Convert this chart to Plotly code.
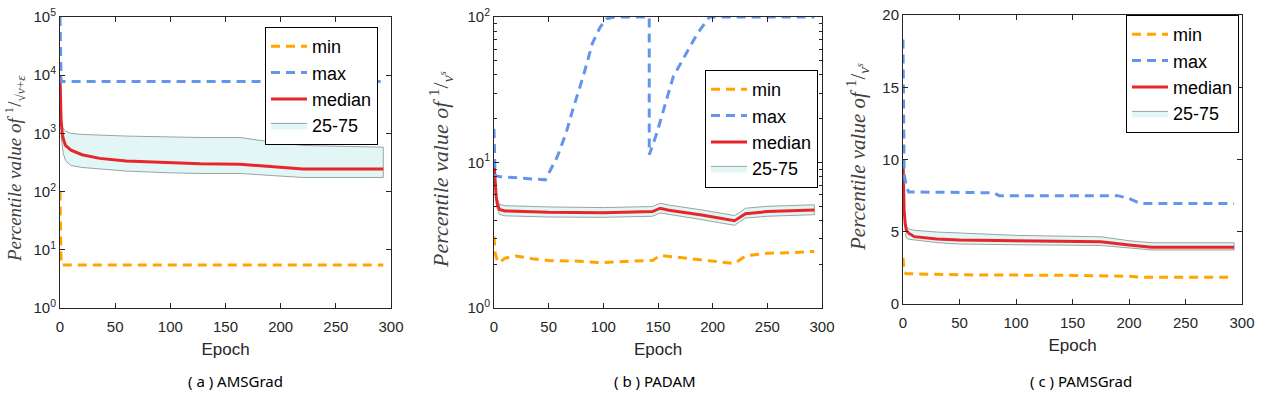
import plotly.graph_objects as go

# ---- data ----
# (a) AMSGrad, log axis
a_med_epoch = [0, 1, 2, 3, 5, 10, 20, 36, 60, 100, 127, 163, 190, 220, 250, 293]
a_median = [10000, 1700, 1000, 800, 620, 516, 430, 372, 335, 310, 300, 295, 270, 245, 245, 245]
a_band_epoch = [1, 2, 3, 5, 10, 20, 36, 60, 100, 127, 163, 190, 220, 250, 293]
a_p75 = [1400, 1250, 1200, 1100, 1000, 960, 930, 900, 870, 850, 850, 720, 620, 600, 580]
a_p25 = [900, 650, 450, 340, 280, 260, 245, 225, 210, 205, 205, 190, 175, 175, 175]
a_max_epoch = [0, 1, 293]
a_max = [100000, 7800, 7800]
a_min_epoch = [0, 1, 293]
a_min = [100, 5.5, 5.5]

# (b) PADAM, log axis
b_med_epoch = [0, 1, 2, 3, 5, 10, 30, 50, 100, 145, 152, 160, 190, 220, 225, 230, 250, 293]
b_median = [10, 7, 5.8, 5.2, 4.75, 4.65, 4.6, 4.55, 4.52, 4.6, 4.85, 4.7, 4.35, 3.98, 4.2, 4.45, 4.6, 4.72]
b_band_epoch = [2, 3, 5, 10, 30, 50, 100, 145, 152, 160, 190, 220, 225, 230, 250, 293]
b_p75 = [6.3, 5.6, 5.15, 5.05, 5.0, 4.95, 4.9, 4.98, 5.25, 5.1, 4.72, 4.32, 4.55, 4.85, 5.0, 5.12]
b_p25 = [5.3, 4.8, 4.4, 4.3, 4.27, 4.22, 4.2, 4.27, 4.5, 4.37, 4.05, 3.7, 3.9, 4.15, 4.27, 4.38]
b_max_epoch = [0, 1, 5, 25, 47, 58, 66, 72, 82, 90, 97, 103, 110, 142, 142, 149, 164, 186, 197, 293]
b_max = [17, 8.1, 8.0, 7.8, 7.6, 11, 16, 23, 40, 66, 85, 97, 100, 100, 11.3, 16, 39, 77, 100, 100]
b_min_epoch = [0, 1, 3, 5, 10, 20, 35, 50, 75, 100, 125, 145, 152, 175, 200, 220, 230, 250, 270, 293]
b_min = [3.1, 2.4, 2.1, 2.05, 2.2, 2.28, 2.18, 2.12, 2.1, 2.05, 2.1, 2.12, 2.3, 2.2, 2.1, 2.02, 2.28, 2.38, 2.4, 2.45]

# (c) PAMSGrad, linear axis
c_med_epoch = [0, 1, 2, 3, 5, 10, 30, 50, 100, 175, 200, 220, 293]
c_median = [10, 6.5, 5.5, 5.1, 4.9, 4.66, 4.5, 4.43, 4.38, 4.3, 4.08, 3.92, 3.92]
c_band_epoch = [2, 3, 5, 10, 30, 50, 100, 175, 200, 220, 293]
c_p75 = [5.8, 5.35, 5.2, 5.1, 4.98, 4.9, 4.75, 4.65, 4.38, 4.24, 4.24]
c_p25 = [4.9, 4.57, 4.48, 4.4, 4.25, 4.15, 4.1, 4.05, 3.88, 3.74, 3.74]
c_max_epoch = [0, 1, 3, 5, 80, 85, 190, 200, 210, 293]
c_max = [18.3, 9, 8.1, 7.75, 7.7, 7.5, 7.5, 7.3, 6.95, 6.95]
c_min_epoch = [0, 1, 3, 50, 150, 200, 210, 293]
c_min = [3.2, 2.2, 2.1, 2.02, 1.98, 1.92, 1.85, 1.85]

W, H = 1272, 397


def px(x):
    return x / W


def py(y):
    return 1 - y / H


panels = [
    dict(ax='', leg='legend', med=(a_med_epoch, a_median), band=(a_band_epoch, a_p75, a_p25),
         mx=(a_max_epoch, a_max), mn=(a_min_epoch, a_min)),
    dict(ax='2', leg='legend2', med=(b_med_epoch, b_median), band=(b_band_epoch, b_p75, b_p25),
         mx=(b_max_epoch, b_max), mn=(b_min_epoch, b_min)),
    dict(ax='3', leg='legend3', med=(c_med_epoch, c_median), band=(c_band_epoch, c_p75, c_p25),
         mx=(c_max_epoch, c_max), mn=(c_min_epoch, c_min)),
]

ORANGE = '#FFA500'
BLUE = '#6495ED'
RED = '#E8262A'
FILL = 'rgba(226,245,245,0.95)'
EDGE = '#9AA4A4'

fig = go.Figure()
for p in panels:
    xa, ya = 'x' + p['ax'], 'y' + p['ax']
    be, hi, lo = p['band']
    # band outline: upper edge forward, lower edge back
    fig.add_trace(go.Scatter(x=list(be) + list(be)[::-1], y=list(hi) + list(lo)[::-1],
                             mode='lines', fill='toself', fillcolor=FILL,
                             line=dict(color=EDGE, width=1), name='25-75', legendrank=4,
                             xaxis=xa, yaxis=ya, legend=p['leg']))
    fig.add_trace(go.Scatter(x=p['med'][0], y=p['med'][1], mode='lines', name='median',
                             line=dict(color=RED, width=3), legendrank=3,
                             xaxis=xa, yaxis=ya, legend=p['leg']))
    fig.add_trace(go.Scatter(x=p['mn'][0], y=p['mn'][1], mode='lines', name='min',
                             line=dict(color=ORANGE, width=3, dash='9px,6px'), legendrank=1,
                             xaxis=xa, yaxis=ya, legend=p['leg']))
    fig.add_trace(go.Scatter(x=p['mx'][0], y=p['mx'][1], mode='lines', name='max',
                             line=dict(color=BLUE, width=3, dash='9px,6px'), legendrank=2,
                             xaxis=xa, yaxis=ya, legend=p['leg']))

axis_common = dict(showline=True, linecolor='#262626', linewidth=1, mirror='ticks',
                   ticks='inside', ticklen=5, tickcolor='#262626', showgrid=False,
                   zeroline=False, automargin=False, ticklabeloverflow='allow',
                   tickfont=dict(family='Liberation Sans, Arial', size=15, color='#262626'))
xcommon = dict(axis_common, range=[0, 300], tickvals=[0, 50, 100, 150, 200, 250, 300],
               ticklabelstandoff=5,
               title=dict(text='Epoch', standoff=9,
                          font=dict(family='Liberation Sans, Arial', size=17, color='#262626')))

fig.update_layout(
    xaxis=dict(xcommon, domain=[px(60), px(391)], anchor='y'),
    yaxis=dict(axis_common, type='log', range=[0, 5], domain=[py(308), py(17)],
               anchor='x', tickvals=[1, 10, 100, 1000, 10000, 100000],
               ticktext=['10<sup>%d</sup>' % i for i in range(6)]),
    xaxis2=dict(xcommon, domain=[px(494), px(822)], anchor='y2'),
    yaxis2=dict(axis_common, type='log', range=[0, 2], domain=[py(308), py(17)],
                anchor='x2', tickvals=[1, 10, 100], ticktext=['10<sup>0</sup>', '10<sup>1</sup>', '10<sup>2</sup>'],
                minor=dict(ticks='inside', ticklen=3, tickcolor='#262626',
                           tickvals=[2, 3, 4, 5, 6, 7, 8, 9, 20, 30, 40, 50, 60, 70, 80, 90])),
    xaxis3=dict(xcommon, domain=[px(903), px(1242)], anchor='y3'),
    yaxis3=dict(axis_common, range=[0, 20], domain=[py(304), py(15)], anchor='x3',
                tickvals=[0, 5, 10, 15, 20]),
    width=W, height=H,
    margin=dict(l=0, r=0, t=0, b=0),
    paper_bgcolor='white', plot_bgcolor='white',
)

leg_common = dict(bgcolor='white', bordercolor='black', borderwidth=1, xanchor='left', yanchor='top',
                  font=dict(family='Liberation Sans, Arial', size=18, color='black'),
                  itemwidth=36)
fig.update_layout(
    legend=dict(leg_common, x=px(265), y=py(27)),
    legend2=dict(leg_common, x=px(705), y=py(70)),
    legend3=dict(leg_common, x=px(1126), y=py(15)),
)

# y axis titles, placed as rotated annotations
ytitles = [
    ('<i>Percentile value of </i><sup>1</sup>/<sub>√<i>v</i>+<i>ε</i></sub>', 14, 169, 19),
    ('<i>Percentile value of </i><sup>1</sup>/<sub><i>v<sup>s</sup></i></sub>', 440, 170, 22),
    ('<i>Percentile value of </i><sup>1</sup>/<sub><i>v<sup>s</sup></i></sub>', 858, 157, 21),
]
for text, xc, yc, size in ytitles:
    fig.add_annotation(text=text, x=px(xc), y=py(yc), xref='paper', yref='paper',
                       showarrow=False, textangle=-90, xanchor='center', yanchor='middle',
                       font=dict(family='Liberation Serif, DejaVu Serif', size=size, color='#404040'))

captions = [('( a ) AMSGrad', 236), ('( b ) PADAM', 655), ('( c ) PAMSGrad', 1081)]
for text, xc in captions:
    fig.add_annotation(text=text, x=px(xc), y=py(381), xref='paper', yref='paper',
                       showarrow=False, xanchor='center', yanchor='middle',
                       font=dict(family='Noto Sans', size=15, color='black'))

# drop the default body margin so the figure sits at the window's corner
fig.write_html('out.html', config={'displayModeBar': False},
               post_script="document.body.style.margin = '0px';")
